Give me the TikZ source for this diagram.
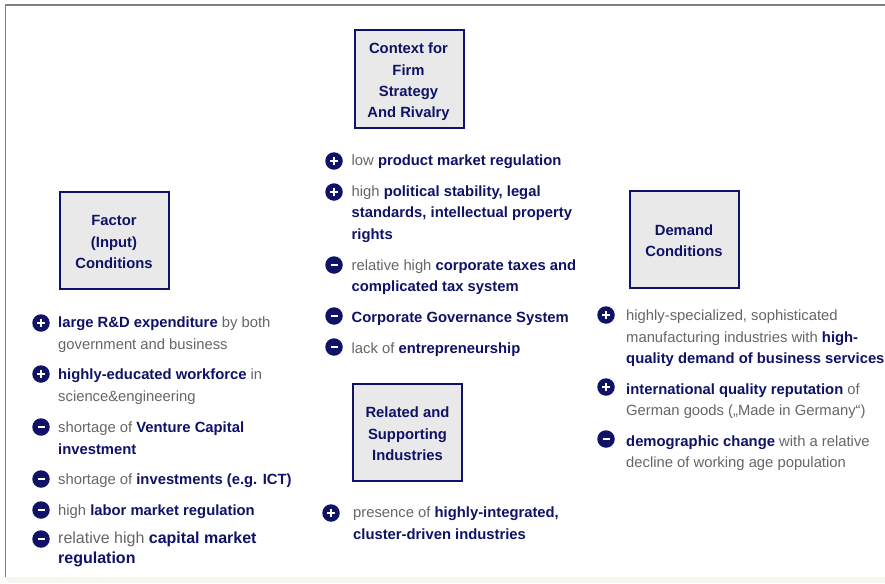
\documentclass[tikz,border=0pt]{standalone}
\usepackage{xcolor}
\usepackage{fontspec}
\setmainfont{Liberation Sans}
\usetikzlibrary{positioning}
\definecolor{navyc}{HTML}{0F1266}
\definecolor{grayc}{HTML}{666666}
\definecolor{boxc}{HTML}{E9E9E9}
\definecolor{stripc}{HTML}{F6F6EE}
\newcommand{\bt}[1]{\textbf{\textcolor{navyc}{#1}}}
\tikzset{
    condbox/.style={draw=navyc, line width=2pt, fill=boxc, minimum width=109pt, minimum height=97pt, inner sep=0pt},
    boxlabel/.style={inner sep=0pt, align=center, text=navyc, font=\fontsize{14.8}{21.4}\selectfont\bfseries},
    signdot/.style={circle, fill=navyc, minimum size=17.5pt, inner sep=0pt},
    itemline/.style={anchor=base west, inner sep=0pt, text=grayc, font=\fontsize{14.8}{14.8}\selectfont},
    bigline/.style={itemline, font=\fontsize{16}{16}\selectfont},
}
\begin{document}
\begin{tikzpicture}[x=1pt, y=-1pt]
\useasboundingbox (0,0) rectangle (885,583);

% Frame
\fill[white] (0,0) rectangle (885,583);
\fill[stripc] (7,577) rectangle (885,583);
\draw[gray, line width=1.6pt] (885,5) -- (5.5,5) -- (5.5,577);

% Boxes
\node[condbox] (context) at (409,79) {};
\node[boxlabel] (contextlbl) at (408.5,82) {Context for\\Firm\\Strategy\\And Rivalry};
\node[condbox] (factor) at (114,240) {};
\node[boxlabel] (factorlbl) at (114,242) {Factor\\(Input)\\Conditions};
\node[condbox] (demand) at (684,239) {};
\node[boxlabel] (demandlbl) at (684,241) {Demand\\Conditions};
\node[condbox] (related) at (407.5,432) {};
\node[boxlabel] (relatedlbl) at (407.5,434) {Related and\\Supporting\\Industries};

% Plus signs
\foreach \x/\y/\n in {334/161/a, 334/192/b, 41/323/c, 41/374/d, 606/315/e, 606/387/f, 331/513/g} {
    \node[signdot] (plus\n) at (\x,\y) {};
    \draw[white, line width=1.5pt] (plus\n.center) +(-4,0) -- +(4,0) (plus\n.center) +(0,-4) -- +(0,4);
}

% Minus signs
\foreach \x/\y/\n in {334/265/a, 334/316/b, 334/347/c, 41/427/d, 41/479/e, 41/510/f, 41/539/g, 606/439/h} {
    \node[signdot] (minus\n) at (\x,\y) {};
    \draw[white, line width=1.5pt] (minus\n.center) +(-3.5,0) -- +(3.5,0);
}

% Middle column
\foreach \y/\n/\txt in {
    165/a/{low \bt{product market regulation}},
    196/b/{high \bt{political stability, legal}},
    217/c/{\bt{standards, intellectual property}},
    239/d/{\bt{rights}},
    270/e/{relative high \bt{corporate taxes and}},
    291/f/{\bt{complicated tax system}},
    322/g/{\bt{Corporate Governance System}},
    353/h/{lack of \bt{entrepreneurship}}} {
    \node[itemline] (mid\n) at (351.5,\y) {\txt};
}

% Left column
\foreach \y/\n/\txt in {
    327/a/{\bt{large R\&D expenditure} by both},
    349/b/{government and business},
    379/c/{\bt{highly-educated workforce} in},
    401/d/{science\&engineering},
    432/e/{shortage of \bt{Venture Capital}},
    454/f/{\bt{investment}},
    484/g/{shortage of \bt{investments (e.g. ICT)}},
    515/h/{high \bt{labor market regulation}}} {
    \node[itemline] (left\n) at (58,\y) {\txt};
}
\node[bigline] (lefti) at (58,543) {relative high \bt{capital market}};
\node[bigline] (leftj) at (58,563) {\bt{regulation}};

% Right column
\foreach \y/\n/\txt in {
    320/a/{highly-specialized, sophisticated},
    342/b/{manufacturing industries with \bt{high-}},
    363/c/{\bt{quality demand of business services}},
    394/d/{\bt{international quality reputation} of},
    415/e/{German goods („Made in Germany“)},
    446/f/{\bt{demographic change} with a relative},
    467/g/{decline of working age population}} {
    \node[itemline] (right\n) at (626,\y) {\txt};
}

% Bottom column
\node[itemline] (lowa) at (353,517) {presence of \bt{highly-integrated,}};
\node[itemline] (lowb) at (353,539) {\bt{cluster-driven industries}};

\end{tikzpicture}
\end{document}
